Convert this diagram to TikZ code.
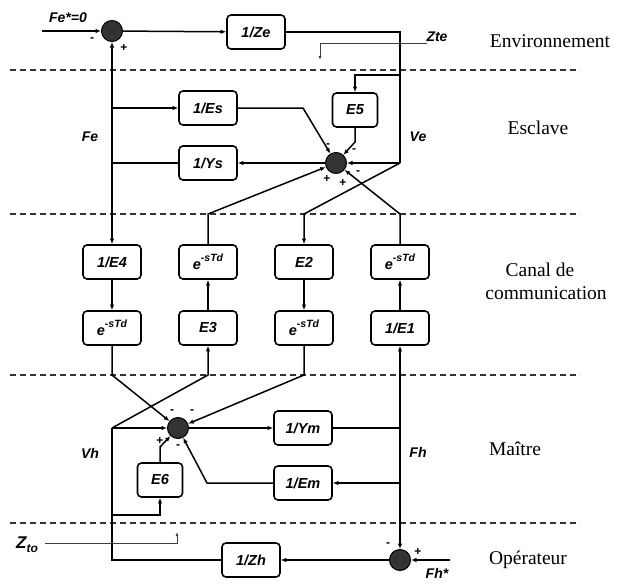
\documentclass[tikz,border=0pt]{standalone}
\usepackage{fontspec}
\setmainfont{Liberation Serif}
\newfontfamily\labfont{Liberation Sans}
\usetikzlibrary{arrows.meta}
\newcommand{\edelay}{e\raisebox{0.55em}{\fontsize{10.5}{10.5}\selectfont -sTd}}
\begin{document}
\begin{tikzpicture}[x=1pt,y=-1pt,
  blk/.style={draw, line width=1.6pt, rounded corners=4pt, minimum width=58pt, minimum height=34pt, inner sep=0pt, font=\labfont\bfseries\itshape\fontsize{14.5}{16}\selectfont},
  sblk/.style={blk, minimum width=45pt},
  sumj/.style={circle, draw, fill=black!80, line width=1pt, minimum size=21pt, inner sep=0pt},
  sig/.style={line width=1.5pt},
  ar/.style={sig, -{Latex[length=5.5pt,width=4.5pt]}},
  arr2/.style={sig, {Latex[length=5.5pt,width=4.5pt]}-{Latex[length=5.5pt,width=4.5pt]}},
  sgn/.style={font=\labfont\bfseries\fontsize{12}{12}\selectfont, inner sep=0pt},
  lbl/.style={font=\labfont\bfseries\itshape\fontsize{14}{16}\selectfont, inner sep=0pt},
  zone/.style={font=\fontsize{19.5}{22}\selectfont, inner sep=0pt},
  zonesep/.style={dash pattern=on 6pt off 4pt, line width=1.2pt, black!80},
  thinln/.style={line width=0.8pt, black!75}
]
\useasboundingbox (0,0) rectangle (619,584);

% separators
\foreach \yy [count=\i] in {70,214,375,523}{
  \coordinate (sl\i) at (10,\yy);
  \coordinate (sr\i) at (580,\yy);
  \draw[zonesep] (sl\i) -- (sr\i);
}

% zone labels
\node[zone] (zenv) at (550,41) {Environnement};
\node[zone] (zesc) at (538,128) {Esclave};
\node[zone] (zcan1) at (540,270) {Canal de};
\node[zone] (zcan2) at (546,293) {communication};
\node[zone] (zmai) at (515,449) {Maître};
\node[zone] (zope) at (528,560) {Opérateur};

% blocks
\node[blk] (ze) at (256,32) {1/Ze};
\node[blk] (es) at (208,108) {1/Es};
\node[blk] (ys) at (208,163) {1/Ys};
\node[sblk] (e5) at (355,110) {E5};
\node[blk] (e4) at (112,262) {1/E4};
\node[blk] (d1) at (112,328) {\edelay};
\node[blk] (d2) at (208,262) {\edelay};
\node[blk] (e3) at (208,328) {E3};
\node[blk] (e2) at (304,262) {E2};
\node[blk] (d3) at (304,328) {\edelay};
\node[blk] (d4) at (400,262) {\edelay};
\node[blk] (e1) at (400,328) {1/E1};
\node[blk] (ym) at (303,428) {1/Ym};
\node[blk] (em) at (303,483) {1/Em};
\node[sblk] (e6) at (160,480) {E6};
\node[blk] (zh) at (251,560) {1/Zh};

% summing junctions
\node[sumj] (s1) at (112,31) {};
\node[sumj] (s2) at (336,163) {};
\node[sumj] (s3) at (178,428) {};
\node[sumj] (s4) at (400,560) {};

% coordinates
\coordinate (fin) at (42,31);
\coordinate (vtop) at (400,32);
\coordinate (v5) at (400,75);
\coordinate (e5in) at (355,75);
\coordinate (vmid) at (400,163);
\coordinate (c2top) at (208,214);
\coordinate (c3top) at (304,214);
\coordinate (c4top) at (400,214);
\coordinate (esbend) at (303,108);
\coordinate (e5bend) at (355,142);
\coordinate (fes) at (112,108);
\coordinate (fys) at (112,163);
\coordinate (c1bot) at (112,375);
\coordinate (c2bot) at (208,375);
\coordinate (c3bot) at (304,375);
\coordinate (vh) at (112,428);
\coordinate (vh6) at (112,515);
\coordinate (e6in) at (160,515);
\coordinate (e6bend) at (160,447);
\coordinate (embend) at (207,483);
\coordinate (fym) at (400,428);
\coordinate (fem) at (400,483);
\coordinate (vhbot) at (112,560);
\coordinate (fhin) at (450,560);
\coordinate (zteA) at (427,43);
\coordinate (zteB) at (320,43);
\coordinate (zteC) at (320,60);
\coordinate (ztoA) at (45,543);
\coordinate (ztoB) at (177,543);
\coordinate (ztoC) at (177,532);

% environment
\draw[ar] (fin) -- (s1);
\draw[ar] (s1) -- (ze);
\draw[sig] (ze) -- (vtop) -- (vmid);
\draw[thinln, -{Latex[length=4pt,width=3pt]}] (zteA) -- (zteB) -- (zteC);

% slave
\draw[arr2] (s1) -- (e4);
\draw[ar] (fes) -- (es);
\draw[ar] (es) -- (esbend) -- (s2);
\draw[ar] (v5) -- (e5in) -- (e5);
\draw[ar] (e5) -- (e5bend) -- (s2);
\draw[ar] (vmid) -- (s2);
\draw[ar] (vmid) -- (c3top) -- (e2);
\draw[ar] (d4) -- (c4top) -- (s2);
\draw[ar] (d2) -- (c2top) -- (s2);
\draw[ar] (s2) -- (ys);
\draw[sig] (ys) -- (fys);

% channel
\draw[ar] (e4) -- (d1);
\draw[ar] (e3) -- (d2);
\draw[ar] (e2) -- (d3);
\draw[ar] (e1) -- (d4);

% master
\draw[ar] (d1) -- (c1bot) -- (s3);
\draw[ar] (d3) -- (c3bot) -- (s3);
\draw[ar] (vh) -- (s3);
\draw[ar] (vh) -- (c2bot) -- (e3);
\draw[ar] (s3) -- (ym);
\draw[sig] (ym) -- (fym);
\draw[ar] (fem) -- (em);
\draw[ar] (em) -- (embend) -- (s3);
\draw[ar] (e6) -- (e6bend) -- (s3);
\draw[ar] (vh6) -- (e6in) -- (e6);

% operator
\draw[sig] (zh) -- (vhbot) -- (vh);
\draw[ar] (s4) -- (zh);
\draw[ar] (fhin) -- (s4);
\draw[arr2] (e1) -- (s4);
\draw[thinln, -{Latex[length=4pt,width=3pt]}] (ztoA) -- (ztoB) -- (ztoC);

% signal labels
\node[lbl] (lfe0) at (68,18) {Fe*=0};
\node[lbl] (lfe) at (90,137) {Fe};
\node[lbl] (lve) at (418,137) {Ve};
\node[lbl] (lvh) at (90,453) {Vh};
\node[lbl] (lfh) at (418,452) {Fh};
\node[lbl] (lfhs) at (437,573) {Fh*};
\node[lbl] (lzte) at (437,37) {Zte};
\node[lbl, font=\labfont\bfseries\itshape\fontsize{17}{17}\selectfont] (lzto) at (27,545) {Z\raisebox{-0.25em}{\fontsize{12}{12}\selectfont to}};

% signs
\node[sgn] (g1) at (92,40) {-};
\node[sgn] (g2) at (124,48) {+};
\node[sgn] (g3) at (328,146) {-};
\node[sgn] (g4) at (354,151) {-};
\node[sgn] (g5) at (358,173) {-};
\node[sgn] (g6) at (327,179) {+};
\node[sgn] (g7) at (343,183) {+};
\node[sgn] (g8) at (172,412) {-};
\node[sgn] (g9) at (192,412) {-};
\node[sgn] (g10) at (160,441) {+};
\node[sgn] (g11) at (178,447) {-};
\node[sgn] (g12) at (388,545) {-};
\node[sgn] (g13) at (418,552) {+};
\end{tikzpicture}
\end{document}
